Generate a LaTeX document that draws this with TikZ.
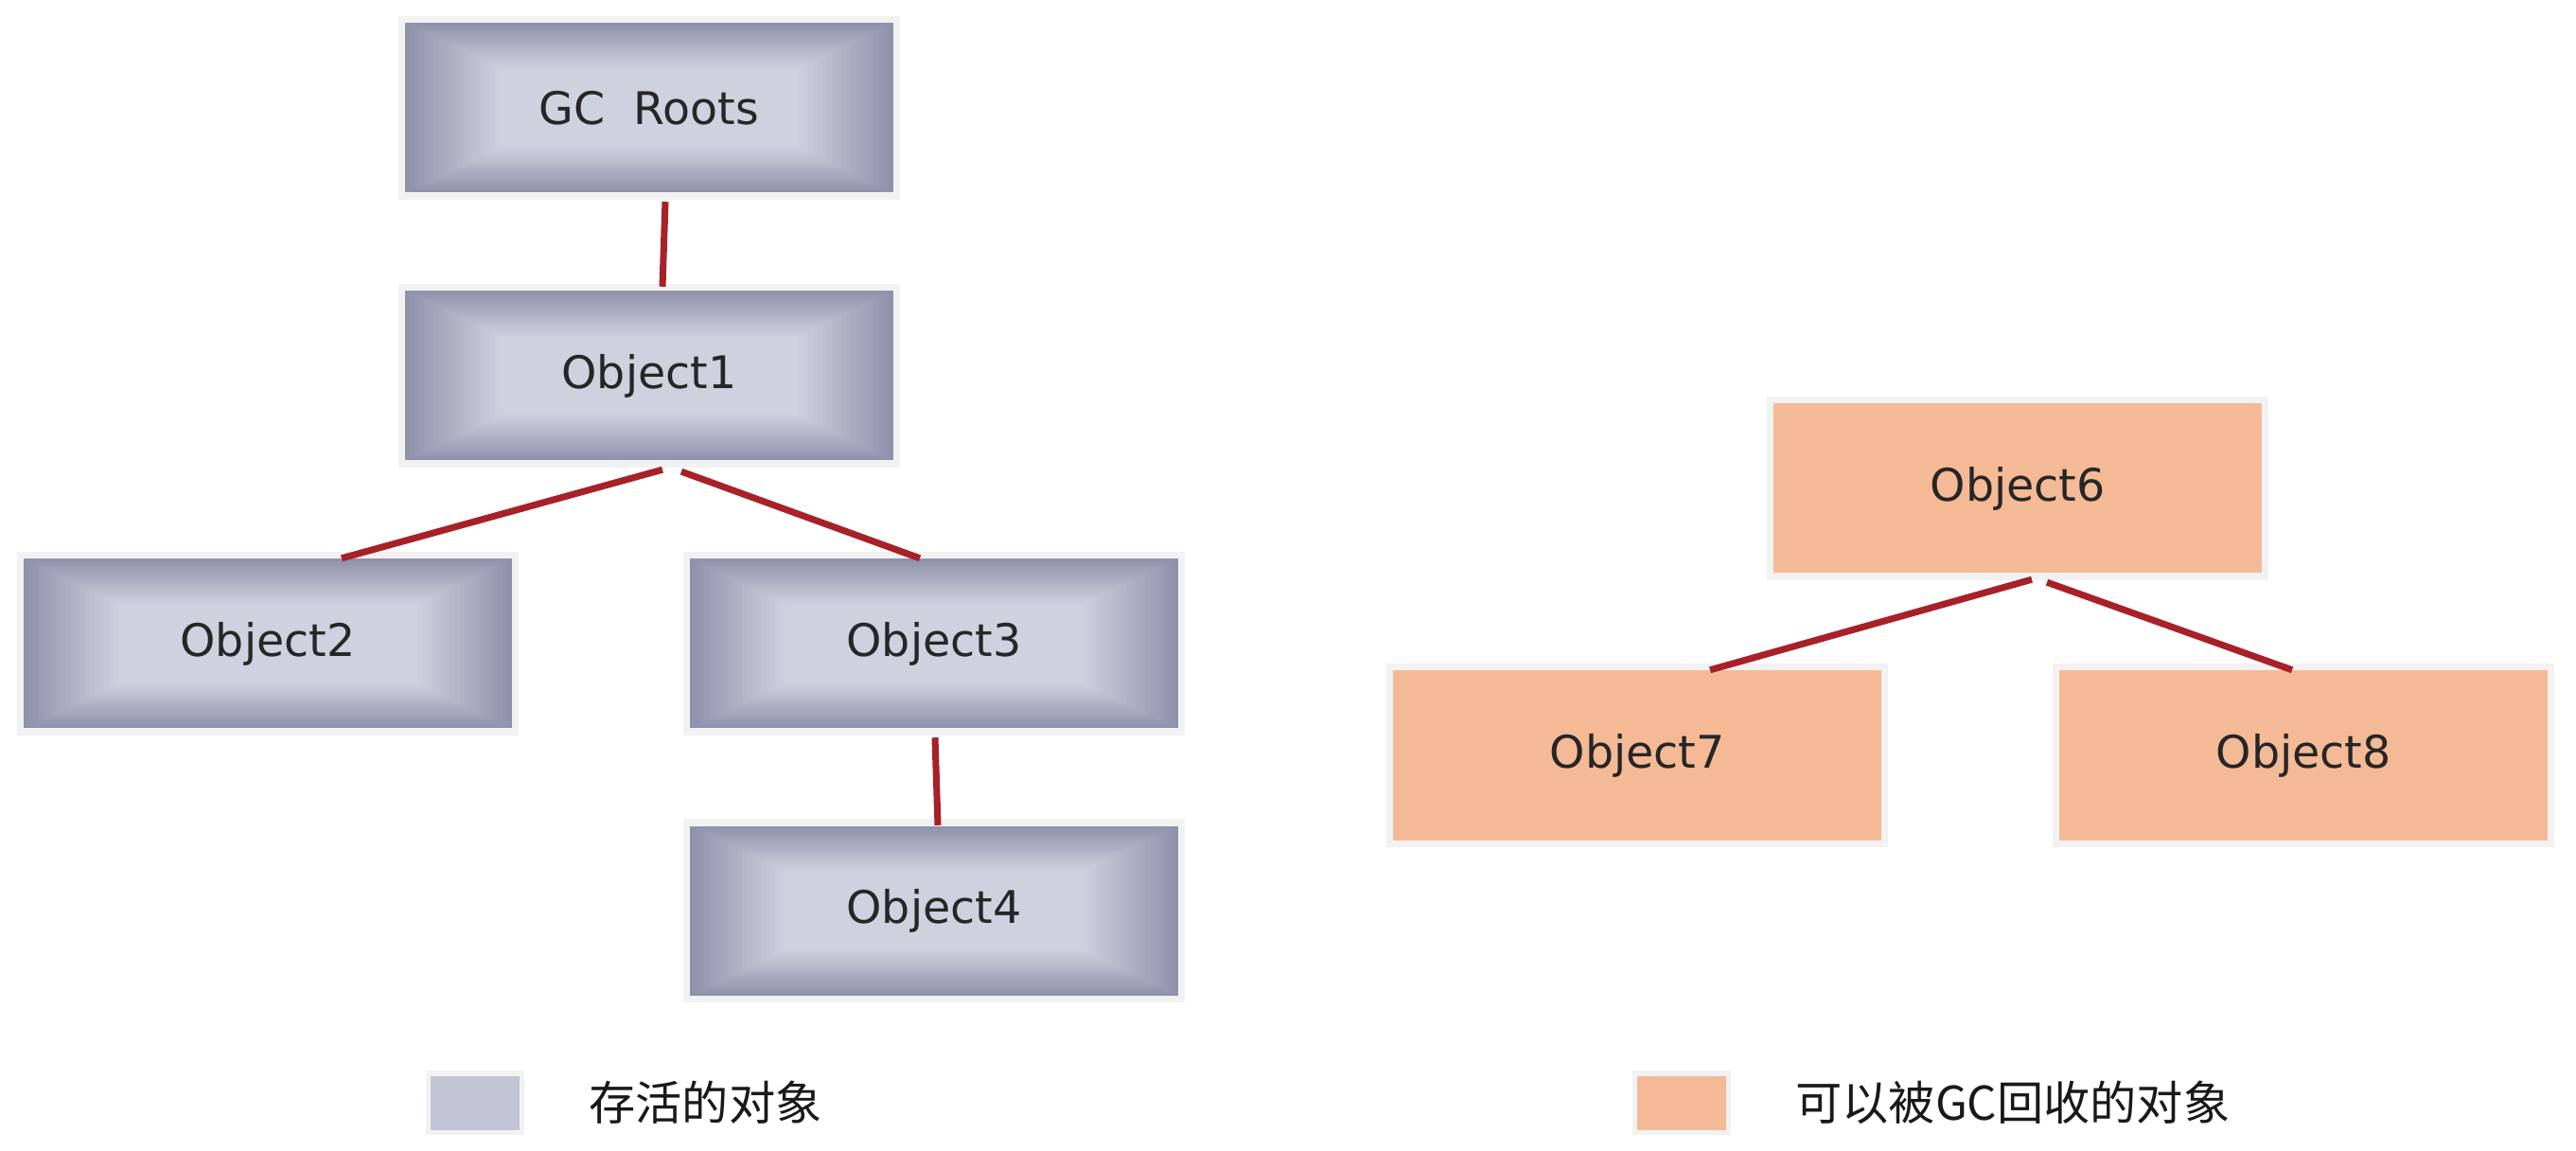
\documentclass[tikz,border=0pt]{standalone}
\usepackage{fontspec}
\setmainfont{DejaVu Sans}
\newfontfamily\cjk{Noto Sans CJK SC}
\usetikzlibrary{calc}
\definecolor{liveedge}{RGB}{144,146,172}
\definecolor{livemid}{RGB}{208,209,223}
\definecolor{deadfill}{RGB}{244,186,150}
\definecolor{linkred}{RGB}{168,32,40}
\tikzset{
  objbox/.style={minimum width=5.16cm, minimum height=1.79cm, inner sep=0pt,
      font=\fontsize{13.5}{15}\selectfont, text=black!85,
      preaction={draw=black!5, line width=4pt}},
  live/.style={objbox, path picture={
      \foreach \k in {0,...,20}{
        \pgfmathtruncatemacro\f{100*\k/20}
        \fill[livemid!\f!liveedge]
          ($(path picture bounding box.south west)+(\k*0.05,\k*0.024)$) rectangle
          ($(path picture bounding box.north east)-(\k*0.05,\k*0.024)$);
      }}},
  dead/.style={objbox, fill=deadfill},
  key/.style={minimum width=0.94cm, minimum height=0.57cm, inner sep=0pt,
      preaction={draw=black!5, line width=3pt}},
  keytext/.style={anchor=west, font=\cjk\fontsize{14}{16}\selectfont, text=black!90},
  link/.style={draw=linkred, line width=2pt},
}
\begin{document}
\begin{tikzpicture}
  \fill[white] (0,0) rectangle (27.22,-12.16);
  % live objects
  \node[live] (gc) at (6.86,-1.14) {GC\ \ Roots};
  \node[live] (obj1) at (6.86,-3.97) {Object1};
  \node[live] (obj2) at (2.83,-6.80) {Object2};
  \node[live] (obj3) at (9.87,-6.80) {Object3};
  \node[live] (obj4) at (9.87,-9.62) {Object4};
  % collectable objects
  \node[dead] (obj6) at (21.32,-5.16) {Object6};
  \node[dead] (obj7) at (17.30,-7.98) {Object7};
  \node[dead] (obj8) at (24.34,-7.98) {Object8};
  % references
  \draw[link] ([xshift=0.17cm,yshift=-0.09cm]gc.south) -- ([xshift=0.14cm,yshift=0.04cm]obj1.north);
  \draw[link] ([xshift=0.14cm,yshift=-0.09cm]obj1.south) -- ([xshift=0.78cm]obj2.north);
  \draw[link] ([xshift=0.34cm,yshift=-0.11cm]obj1.south) -- ([xshift=-0.15cm]obj3.north);
  \draw[link] ([xshift=0.01cm,yshift=-0.09cm]obj3.south) -- ([xshift=0.04cm]obj4.north);
  \draw[link] ([xshift=0.15cm,yshift=-0.06cm]obj6.south) -- ([xshift=0.77cm]obj7.north);
  \draw[link] ([xshift=0.31cm,yshift=-0.09cm]obj6.south) -- ([xshift=-0.12cm]obj8.north);
  % legend
  \node[key, fill=livemid!80!liveedge] (key1) at (5.02,-11.65) {};
  \node[keytext] (keylive) at (6.10,-11.65) {存活的对象};
  \node[key, fill=deadfill] (key2) at (17.77,-11.65) {};
  \node[keytext] (keydead) at (18.85,-11.65) {可以被GC回收的对象};
\end{tikzpicture}
\end{document}
